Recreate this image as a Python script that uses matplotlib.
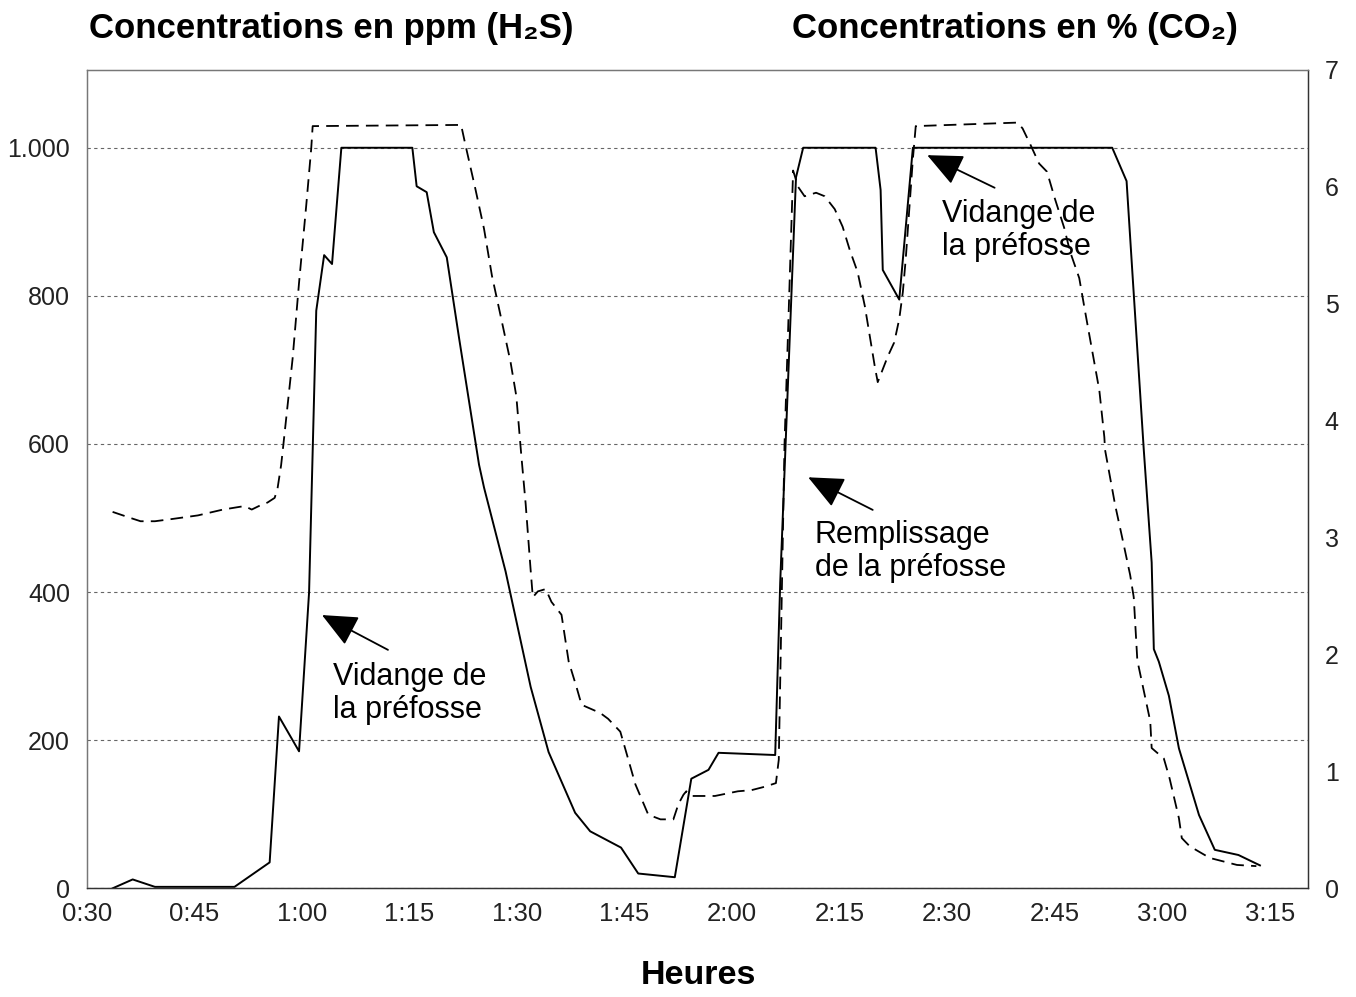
import numpy as np
import matplotlib
matplotlib.use("Agg")
import matplotlib.pyplot as plt

plt.rcParams['font.family'] = ['Liberation Sans', 'DejaVu Sans']

# temps en minutes depuis 0:00
t_h2s = [33.6, 36.4, 39.5, 44.0, 50.6, 55.5, 56.8, 59.6, 61.0, 62.0, 63.1, 64.2,
         65.5, 75.4, 76.0, 77.4, 78.4, 80.2, 81.9, 84.7, 85.4, 88.4, 91.9, 94.4,
         98.1, 100.2, 104.5, 106.9, 112.0, 114.3, 116.7, 118.1, 126.0, 126.7,
         128.9, 129.9, 140.0, 140.7, 141.0, 143.3, 145.2, 173.0, 175.0, 175.8,
         177.4, 178.5, 178.8, 179.5, 180.9, 182.3, 185.1, 187.3, 190.6, 193.6]
h2s_ppm = [0, 12, 2, 2, 2, 35, 232, 185, 400, 780, 855, 843,
           1000, 1000, 948, 940, 886, 852, 744, 572, 541, 428, 272, 184,
           102, 77, 55, 20, 15, 148, 160, 183, 180, 413,
           960, 1000, 1000, 943, 835, 795, 1000, 1000, 955, 833,
           592, 440, 323, 306, 260, 189, 99, 52, 45, 31]

t_co2 = [33.6, 36.0, 37.5, 39.5, 42.0, 45.5, 49.0, 52.0, 53.0, 54.0, 55.2, 56.2,
         56.6, 57.1, 57.3, 58.7, 59.6, 60.6, 61.3, 61.5, 82.2, 82.8, 84.2, 85.4,
         86.5, 87.7, 89.1, 89.9, 90.6, 91.2, 91.9, 92.2, 92.9, 94.0, 94.8, 96.2,
         97.2, 98.3, 99.0, 101.6, 102.7, 104.4, 105.2, 106.5, 108.3, 110.0, 111.8,
         112.5, 113.2, 113.6, 114.3, 117.6, 120.8, 122.7, 124.6, 126.1, 126.5,
         127.3, 128.5, 129.2, 130.1, 131.7, 132.9, 134.3, 135.4, 136.4, 137.5,
         138.5, 139.2, 139.9, 140.3, 141.7, 142.6, 143.3, 143.8, 144.2, 144.7,
         145.2, 145.6, 159.8, 160.5, 161.6, 162.8, 163.9, 165.0, 166.3, 167.1,
         168.4, 169.2, 170.2, 171.2, 171.9, 172.0, 173.4, 174.6, 175.5, 176.0,
         176.5, 177.4, 178.3, 178.5, 180.2, 181.0, 182.3, 182.7, 183.8, 186.6,
         190.4, 193.1]
co2_pct = [3.22, 3.17, 3.14, 3.14, 3.16, 3.19, 3.24, 3.27, 3.24, 3.27, 3.30, 3.34,
           3.42, 3.62, 3.73, 4.53, 5.18, 5.84, 6.33, 6.52, 6.53, 6.36, 5.98, 5.64,
           5.24, 4.90, 4.50, 4.21, 3.70, 3.29, 2.72, 2.49, 2.54, 2.56, 2.45, 2.34,
           1.94, 1.72, 1.57, 1.50, 1.45, 1.34, 1.17, 0.89, 0.63, 0.59, 0.59,
           0.72, 0.80, 0.83, 0.79, 0.79, 0.83, 0.84, 0.87, 0.90, 1.10,
           3.80, 6.14, 6.00, 5.92, 5.95, 5.92, 5.81, 5.66, 5.46, 5.27,
           4.98, 4.72, 4.46, 4.33, 4.55, 4.67, 4.87, 5.10, 5.38, 5.81,
           6.24, 6.52, 6.55, 6.50, 6.36, 6.20, 6.13, 5.90, 5.65, 5.45,
           5.22, 4.94, 4.60, 4.26, 3.86, 3.75, 3.28, 2.94, 2.68, 2.49,
           1.95, 1.69, 1.43, 1.20, 1.11, 0.94, 0.60, 0.43, 0.36, 0.26,
           0.20, 0.19]

x_ticks = list(range(30, 196, 15))
ppm_ticks = [0, 200, 400, 600, 800, 1000]
pct_ticks = [0, 1, 2, 3, 4, 5, 6, 7]

fig = plt.figure(figsize=(13.56, 9.97), dpi=100)
ax = fig.add_axes([0.064, 0.109, 0.9006, 0.8208])
ax2 = ax.twinx()

ax.plot(t_h2s, h2s_ppm, color='black', lw=1.4)
ax2.plot(t_co2, co2_pct, color='black', lw=1.3, dashes=(7, 4))

ax.set_xlim(30, 200.3)
ax.set_ylim(0, 1105)
ax2.set_ylim(0, 7)

ax.set_xticks(x_ticks)
ax.set_xticklabels([f"{m // 60}:{m % 60:02d}" for m in x_ticks], fontsize=18.5, color='#222222')
ax.set_yticks(ppm_ticks)
ax.set_yticklabels([f"{v:,}".replace(',', '.') for v in ppm_ticks], fontsize=18, color='#222222')
ax2.set_yticks(pct_ticks)
ax2.set_yticklabels([str(v) for v in pct_ticks], fontsize=18, color='#222222')
ax.tick_params(axis='both', length=0, pad=10)
ax.tick_params(axis='y', pad=12)
ax2.tick_params(axis='y', length=0, pad=12)

ax.grid(axis='y', color='#666666', lw=0.8, linestyle=(0, (3, 3)))
ax.set_axisbelow(True)

for a in (ax, ax2):
    a.spines['top'].set_linestyle((0, (1, 1)))
    a.spines['left'].set_linestyle((0, (1, 1)))
    a.spines['top'].set_color('#777777')
    a.spines['left'].set_color('#777777')
    a.spines['bottom'].set_color('#333333')
    a.spines['right'].set_color('#333333')
    for s in a.spines.values():
        s.set_linewidth(0.9)

arrow = dict(arrowstyle='-|>,head_length=1.0,head_width=0.45', color='black',
             lw=1.3, mutation_scale=22, shrinkA=0, shrinkB=0)
txt = dict(fontsize=22, va='center', ha='left', linespacing=1.12)
ax.annotate('', xy=(62.8, 369), xytext=(72.0, 322), arrowprops=arrow)
ax.text(64.3, 263, 'Vidange de\nla préfosse', **txt)
ax.annotate('', xy=(130.6, 555), xytext=(139.6, 511), arrowprops=arrow)
ax.text(131.5, 455, 'Remplissage\nde la préfosse', **txt)
ax.annotate('', xy=(147.2, 990), xytext=(156.6, 946), arrowprops=arrow)
ax.text(149.2, 888, 'Vidange de\nla préfosse', **txt)

fig.text(0.066, 0.971, 'Concentrations en ppm (H₂S)', fontsize=25, fontweight='bold', va='center', ha='left')
fig.text(0.584, 0.971, 'Concentrations en % (CO₂)', fontsize=25, fontweight='bold', va='center', ha='left')
fig.text(0.515, 0.022, 'Heures', fontsize=24.5, fontweight='bold', va='center', ha='center')

fig.savefig('out.png', dpi=100)
